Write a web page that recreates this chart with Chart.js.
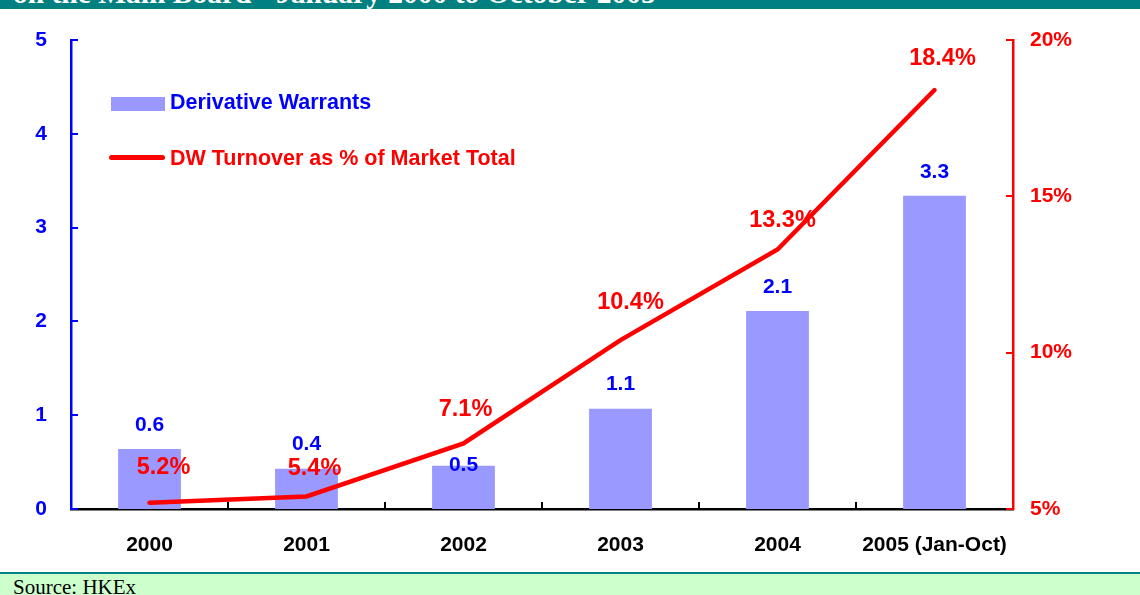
<!DOCTYPE html>
<html>
<head>
<meta charset="utf-8">
<script src="https://cdn.jsdelivr.net/npm/chart.js@4.4.0/dist/chart.umd.min.js"></script>
<style>
  body { margin: 0; width: 1140px; height: 595px; background: #fff; overflow: hidden; position: relative; }
  #banner { position: absolute; left: 0; top: 0; width: 1140px; height: 9px; background: #008080; overflow: hidden; z-index: 3; }
  #banner span { position: absolute; left: 13px; top: -21px; font: bold 29.5px/29.5px "Liberation Serif", "Times New Roman", serif; color: #fff; white-space: nowrap; }
  #wrap { position: absolute; left: 0; top: 0; width: 1140px; height: 572px; }
  #source { position: absolute; left: 0; top: 572px; width: 1140px; height: 21px; background: #CCFFCC; border-top: 2px solid #008080; overflow: hidden; z-index: 3; }
  #source span { position: absolute; left: 13px; top: 1px; font: 21px/24px "Liberation Serif", "Times New Roman", serif; color: #000; }
  .lg { position: absolute; z-index: 2; font: bold 21.5px/22px Arial, "Liberation Sans", sans-serif; white-space: nowrap; }
</style>
</head>
<body>
<div id="banner"><span>on the Main Board - January 2000 to October 2005</span></div>
<div id="wrap"><canvas id="dwChart"></canvas></div>
<div class="lg" style="left:111px;top:97px;width:54px;height:14px;background:#9999FF;"></div>
<div class="lg" style="left:170px;top:91px;color:#0000FF;">Derivative Warrants</div>
<div class="lg" style="left:109px;top:155px;width:56px;height:5px;background:#FF0000;border-radius:3px;"></div>
<div class="lg" style="left:170px;top:147px;color:#FF0000;">DW Turnover as % of Market Total</div>
<div id="source"><span>Source: HKEx</span></div>
<script>
const years = ['2000', '2001', '2002', '2003', '2004', '2005 (Jan-Oct)'];
const dwTurnover = [0.64, 0.43, 0.46, 1.07, 2.11, 3.34];
const dwShare = [5.2, 5.4, 7.1, 10.4, 13.3, 18.4];

const FONT = 'Arial, "Liberation Sans", sans-serif';

// inside tick marks on all three axes
const innerTicks = {
    id: 'innerTicks',
    beforeDatasetsDraw(chart) {
        const { ctx, chartArea: a, scales } = chart;
        ctx.save();
        ctx.lineWidth = 2;
        ctx.strokeStyle = '#0000FF';
        scales.y.ticks.forEach(t => {
            const py = Math.round(scales.y.getPixelForValue(t.value));
            ctx.beginPath(); ctx.moveTo(a.left, py); ctx.lineTo(a.left + 7, py); ctx.stroke();
        });
        ctx.strokeStyle = '#FF0000';
        scales.y1.ticks.forEach(t => {
            const py = Math.round(scales.y1.getPixelForValue(t.value));
            ctx.beginPath(); ctx.moveTo(a.right - 7, py); ctx.lineTo(a.right, py); ctx.stroke();
        });
        ctx.strokeStyle = '#000';
        for (let i = 1; i < years.length; i++) {
            const px = Math.round((scales.x.getPixelForValue(i - 1) + scales.x.getPixelForValue(i)) / 2);
            ctx.beginPath(); ctx.moveTo(px, a.bottom); ctx.lineTo(px, a.bottom - 7); ctx.stroke();
        }
        ctx.restore();
    }
};

const valueLabels = {
    id: 'valueLabels',
    afterDatasetsDraw(chart, args, opts) {
        const ctx = chart.ctx;
        ctx.save();
        ctx.textAlign = 'center';
        ctx.textBaseline = 'middle';
        ctx.font = 'bold 21px ' + FONT;
        ctx.fillStyle = '#0000FF';
        chart.getDatasetMeta(1).data.forEach((el, i) => {
            ctx.fillText(dwTurnover[i].toFixed(1), el.x, el.y - opts.barLift[i]);
        });
        ctx.font = 'bold 23.5px ' + FONT;
        ctx.fillStyle = '#FF0000';
        chart.getDatasetMeta(0).data.forEach((el, i) => {
            const s = opts.lineShift[i];
            ctx.fillText(dwShare[i].toFixed(1) + '%', el.x + s[0], el.y + s[1]);
        });
        ctx.restore();
    }
};

new Chart(document.getElementById('dwChart'), {
    data: {
        labels: years,
        datasets: [{
            type: 'line',
            label: 'DW Turnover as % of Market Total',
            data: dwShare,
            yAxisID: 'y1',
            borderColor: '#FF0000',
            borderWidth: 4.5,
            borderCapStyle: 'round',
            pointRadius: 0,
            tension: 0,
            fill: false,
            order: 1
        }, {
            type: 'bar',
            label: 'Derivative Warrants',
            data: dwTurnover,
            yAxisID: 'y',
            backgroundColor: '#9999FF',
            barPercentage: 0.4,
            categoryPercentage: 1,
            order: 2
        }]
    },
    options: {
        responsive: true,
        maintainAspectRatio: false,
        animation: false,
        layout: { padding: { top: 40 } },
        plugins: {
            legend: { display: false },
            tooltip: { enabled: false },
            valueLabels: {
                barLift: [24, 24, 1, 24, 24, 24],
                lineShift: [[14, -35], [8, -28], [2, -34], [10, -38], [5, -29], [8, -32]]
            }
        },
        scales: {
            x: {
                grid: { display: false },
                border: { display: true, color: '#000', width: 2.5 },
                ticks: { color: '#000', font: { family: FONT, size: 21, weight: 'bold' }, padding: 16, maxRotation: 0, autoSkip: false },
                afterFit: s => { s.height = 63; }
            },
            y: {
                position: 'left',
                min: 0,
                max: 5,
                grid: { display: false },
                border: { display: true, color: '#0000FF', width: 2.5 },
                ticks: { stepSize: 1, color: '#0000FF', font: { family: FONT, size: 21, weight: 'bold' }, padding: 16 },
                afterFit: s => { s.width = 71; }
            },
            y1: {
                position: 'right',
                min: 5,
                max: 20,
                grid: { display: false },
                border: { display: true, color: '#FF0000', width: 2.5 },
                ticks: { stepSize: 5, color: '#FF0000', font: { family: FONT, size: 21, weight: 'bold' }, padding: 9,
                    callback: v => v + '%' },
                afterFit: s => { s.width = 127; }
            }
        }
    },
    plugins: [innerTicks, valueLabels]
});
</script>
</body>
</html>
